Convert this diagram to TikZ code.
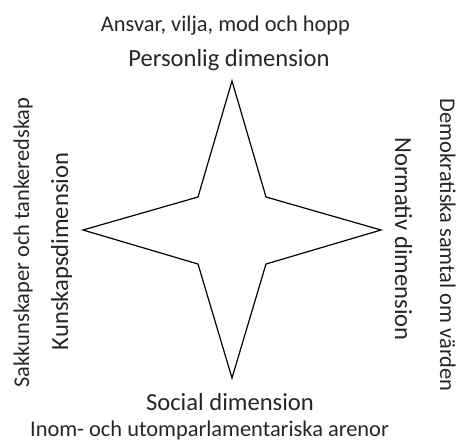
\documentclass[tikz,border=0pt]{standalone}
\usepackage{fontspec}
\setmainfont{Carlito}
\usetikzlibrary{positioning}
\tikzstyle{dim} = [inner sep=0pt, anchor=base, text=black!85, font=\fontsize{24.6}{28}\selectfont]
\tikzstyle{desc} = [inner sep=0pt, anchor=base, text=black!85, font=\fontsize{22.4}{25}\selectfont]

\begin{document}
\begin{tikzpicture}[x=1pt, y=-1pt]
\useasboundingbox (0, 0) rectangle (458, 445);

% star
\draw [line width=1.2pt, line join=miter] (232, 81) -- (266, 197) -- (381, 230) -- (266, 264) -- (232, 378) -- (198, 264) -- (83, 230) -- (198, 197) -- cycle;

\node [desc] (A0) at (225.5, 31) {Ansvar, vilja, mod och hopp};
\node [dim] (P1) at (229, 66) {Personlig dimension};
\node [dim] (S1) at (230, 410) {Social dimension};
\node [desc] (I0) at (209.5, 436) {Inom- och utomparlamentariska arenor};
\node [desc, rotate=90] (T0) at (29, 242.5) {Sakkunskaper och tankeredskap};
\node [dim, rotate=90] (K1) at (68, 251.5) {Kunskapsdimension};
\node [dim, rotate=-90] (N1) at (395, 239) {Normativ dimension};
\node [desc, rotate=-90] (D0) at (440, 245) {Demokratiska samtal om värden};
\end{tikzpicture}
\end{document}
